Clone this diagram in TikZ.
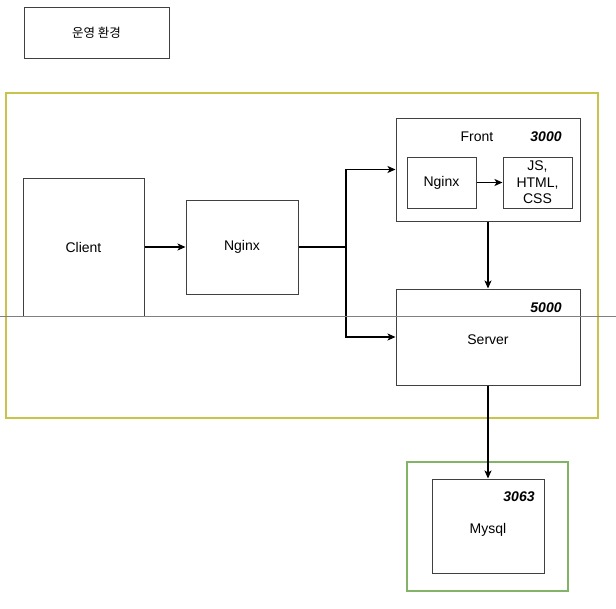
\documentclass[tikz,border=0pt]{standalone}
\usepackage{fontspec}
\setmainfont{Liberation Sans}
\newfontfamily\krfont{Noto Sans CJK KR}
\usetikzlibrary{arrows.meta}

\definecolor{olivebox}{RGB}{200,196,74}
\definecolor{greenbox}{RGB}{130,179,102}
\newcommand{\dfont}{\fontsize{14}{16.5}\selectfont}

\tikzset{
  box/.style={draw=black!75, line width=1pt, fill=white, inner sep=0pt, font=\dfont, align=center},
  lowtext/.style={text height=16pt, text depth=1pt},
  lbl/.style={inner sep=0pt, font=\dfont},
  port/.style={inner sep=0pt, font=\dfont\bfseries\itshape},
  arr/.style={-{Stealth[length=8pt,width=7pt,inset=2pt]}, line width=1.3pt},
}

\begin{document}
\begin{tikzpicture}[x=1pt,y=-1pt]
      \useasboundingbox (0,0) rectangle (616,608);
      % frames
      \draw[olivebox, line width=2.5pt] (6,93) rectangle (598,418);
      \draw[greenbox, line width=2.5pt] (407,462) rectangle (568,591);
      % boxes
      \node[box, minimum width=145, minimum height=51] (title) at (96.5,32.5) {\krfont\fontsize{12.5}{14}\selectfont 운영 환경};
      \node[box, minimum width=121, minimum height=138] (client) at (83.5,247) {Client};
      \node[box, minimum width=112, minimum height=94] (nginx) at (242,247) {Nginx};
      \node[box, minimum width=184, minimum height=103] (front) at (488,169.5) {};
      \node[box, minimum width=69, minimum height=51] (fnginx) at (441.5,182.5) {Nginx};
      \node[box, minimum width=69, minimum height=51] (static) at (537.5,182.5) {JS,\\HTML,\\CSS};
      \node[box, lowtext, minimum width=184, minimum height=96] (server) at (488,337) {Server};
      \node[box, lowtext, minimum width=112, minimum height=94] (mysql) at (488,526) {Mysql};
      % labels
      \node[lbl] (fronttxt) at (477,137) {Front};
      \node[port] (frontport) at (546,137) {3000};
      \node[port] (serverport) at (546,308) {5000};
      \node[port] (mysqlport) at (519,497) {3063};
      % connectors
      \coordinate (split) at (346,247);
      \draw[arr] (client) -- (nginx);
      \draw[line width=1.3pt] (nginx.east) -- (split);
      \draw[arr] (split) |- (front.west);
      \draw[arr] (split) |- (server.west);
      \draw[arr] (fnginx) -- (static);
      \draw[arr] (front) -- (server);
      \draw[arr] (server) -- (mysql);
      % page line
      \draw[black!50, line width=1pt] (0,316) -- (616,316);
\end{tikzpicture}
\end{document}
